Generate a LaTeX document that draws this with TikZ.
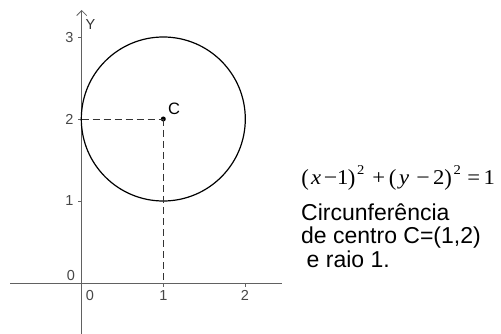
\documentclass[tikz,border=0pt]{standalone}
\usepackage{fontspec}
\usepackage{graphicx}
\setmainfont{Liberation Sans}
\newfontfamily\eqfont{Liberation Serif}
\usetikzlibrary{arrows.meta}
\newcommand\gl[2]{\rlap{\hspace{#1pt}\makebox[0pt]{\scalebox{1.08}[1]{#2}}}}
\newcommand\bpar[1]{\raisebox{-0.8pt}{\scalebox{1}[1.1]{#1}}}
\newcommand\sq{\raisebox{10.5pt}{\fontsize{13.5}{13.5}\selectfont 2}}
\newcommand\mn{\scalebox{1.05}[1]{−}}
\begin{document}
\begin{tikzpicture}[x=1pt,y=-1pt,
  axisline/.style={draw=black!62, line width=0.8pt},
  tickmark/.style={draw=black!62, line width=0.8pt},
  ticklbl/.style={font=\fontsize{14.5}{14.5}\selectfont, text=black!72, inner sep=0pt},
  guide/.style={draw=black!80, line width=0.8pt, dash pattern=on 7pt off 4pt},
  circ/.style={draw=black, line width=1.2pt},
  bodytext/.style={font=\fontsize{23}{23}\selectfont, anchor=base west, inner sep=0pt, text=black}]
\useasboundingbox (0,0) rectangle (501,334);
% coordinates
\coordinate (O) at (81.7,283.3);
\coordinate (xl) at (10,283.3);
\coordinate (xr) at (282,283.3);
\coordinate (yb) at (81.7,334);
\coordinate (yt) at (81.7,10);
\coordinate (Cy) at (81.7,119);
\coordinate (Cx) at (163.3,283.3);
% axes
\draw[axisline] (xl) -- (xr);
\draw[axisline, -{Straight Barb[length=5pt,width=10pt,line width=0.8pt]}] (yb) -- (yt);
% ticks
\foreach \v/\yy in {1/201,2/119.2,3/37.7}{
  \draw[tickmark] (78,\yy) -- (81.7,\yy);
  \node[ticklbl] (ty\v) at (69.5,\yy) {\v};
}
\foreach \v/\xx in {1/163.3,2/245}{
  \draw[tickmark] (\xx,283.3) -- (\xx,287);
  \node[ticklbl] (tx\v) at (\xx,295.5) {\v};
}
\node[ticklbl] (tx0) at (90,295.5) {0};
\node[ticklbl] (ty0) at (71,276) {0};
\node[font=\fontsize{14.5}{14.5}\selectfont, text=black!80, inner sep=0pt] (ylab) at (90.5,25) {Y};
% circle and center
\node[circle, fill=black, inner sep=0pt, minimum size=5pt] (C) at (163.3,119) {};
\draw[circ] (C) circle[radius=82];
\draw[guide] (Cy) -- (C.center);
\draw[guide] (C.center) -- (Cx);
\node[font=\fontsize{16.5}{16.5}\selectfont, inner sep=0pt] (Clab) at (174,109) {C};
% equation
\node[anchor=base west, inner sep=0pt, font=\eqfont\fontsize{21}{21}\selectfont] (eq) at (300,185)
 {\gl{4.5}{\bpar{(}}\gl{15.5}{\textit{x}}\gl{30}{\mn}\gl{42}{1}\gl{51}{\bpar{)}}\gl{60}{\sq}%
  \gl{78}{+}\gl{92}{\bpar{(}}\gl{103.5}{\textit{y}}\gl{122.5}{\mn}\gl{138}{2}\gl{147.5}{\bpar{)}}\gl{156.5}{\sq}%
  \gl{173}{=}\gl{188.5}{1}\hspace{200pt}};
% text
\node[bodytext] (t1) at (301,220) {Circunferência};
\node[bodytext] (t2) at (301,243.5) {de centro C=(1,2)};
\node[bodytext] (t3) at (306.5,267) {e raio 1.};
\end{tikzpicture}
\end{document}
